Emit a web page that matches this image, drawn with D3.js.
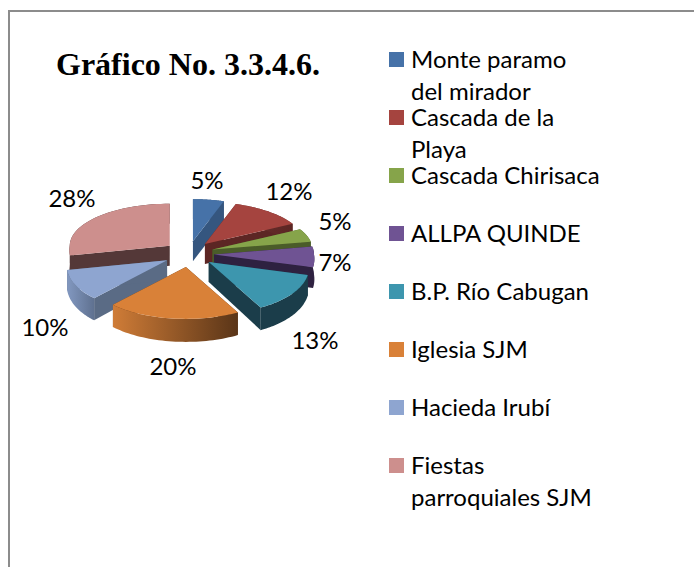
<!DOCTYPE html>
<html><head><meta charset="utf-8">
<script src="https://cdnjs.cloudflare.com/ajax/libs/d3/7.8.5/d3.min.js"></script>
<style>html,body{margin:0;padding:0;background:#fff;overflow:hidden}svg{display:block}</style>
</head><body><svg id="c" width="694" height="567"></svg>
<script>
const title = "Gráfico No. 3.3.4.6.";
const categories = ["Monte paramo\ndel mirador","Cascada de la\nPlaya","Cascada Chirisaca","ALLPA QUINDE","B.P. Río Cabugan","Iglesia SJM","Hacieda Irubí","Fiestas\nparroquiales SJM"];
const values = [5,12,5,7,13,20,10,28];
const topColors  = ["#4672a8","#a5443f","#86a44a","#6f5393","#3d96ae","#d98138","#8ea5d0","#cd8f8d"];
const sideColors = ["#35567f","#5c2624","#4a5c29","#2e2140","#1b3d4a","#5a3518","#5a6b85","#543838"];
const wallStops  = [["#35567f","#35567f"],["#6b302d","#5c2624"],["#4a5c29","#4a5c29"],["#3a2a55","#2e2140"],["#1b3d4a","#1b3d4a"],["#5a3518","#cf7c37"],["#5f7190","#8298c0"],["#543838","#543838"]];
const labelPos = [[207,181],[289,192],[335,222],[335,263],[315,341],[173,367],[45,328],[72,199]];

const svg = d3.select("#c");
const defs = svg.append("defs");
const cx=189, cy=254, Rx=100, RyBack=42, RyFront=52, depth=20, exX=25, exY=13, persp=0.09;
const sans="Lato, 'Open Sans', sans-serif";

svg.append("path").attr("d","M9,567V11H694").attr("fill","none").attr("stroke","#8c8c8c").attr("stroke-width",2);
svg.append("text").attr("x",56).attr("y",75).attr("font-family","'Liberation Serif',serif").attr("font-weight","bold").attr("font-size",32).attr("fill","#000").text(title);

const arcs = d3.pie().sort(null).value(d=>d)(values);
const line = d3.line().x(d=>d[0]).y(d=>d[1]);

function slice(a){
  const mid=(a.startAngle+a.endAngle)/2;
  const ox=cx+exX*Math.sin(mid), oy=cy-exY*Math.cos(mid);
  const pt=(ang,z)=>{
    const c=Math.cos(ang), f=c<0?-c:0;
    return [ox+Rx*(1+persp*f)*Math.sin(ang), oy-(c>0?RyBack:RyFront)*c+z*(1+0.15*f)];
  };
  const steps=d3.range(0,41).map(i=>a.startAngle+(a.endAngle-a.startAngle)*i/40);
  return {ox,oy,pt,steps};
}
// back-to-front painting order
const order=[7,0,1,2,3,6,4,5];
order.forEach(i=>{
  const a=arcs[i], s=slice(a), g=svg.append("g");
  const gid="w"+i;
  const gr=defs.append("linearGradient").attr("id",gid).attr("gradientUnits","userSpaceOnUse")
    .attr("x1",s.pt(a.startAngle,0)[0]).attr("x2",s.pt(a.endAngle,0)[0]).attr("y1",0).attr("y2",0);
  gr.append("stop").attr("offset",0).attr("stop-color",wallStops[i][0]);
  gr.append("stop").attr("offset",1).attr("stop-color",wallStops[i][1]);
  const tip=[s.ox,s.oy], tipB=[s.ox,s.oy+depth];
  [a.startAngle,a.endAngle].forEach(t=>{
    g.append("path").attr("d",line([tip,s.pt(t,0),s.pt(t,depth),tipB])+"Z").attr("fill",sideColors[i]);
  });
  const outer=s.steps.map(t=>s.pt(t,0)).concat(s.steps.slice().reverse().map(t=>s.pt(t,depth)));
  g.append("path").attr("d",line(outer)+"Z").attr("fill",`url(#${gid})`);
  g.append("path").attr("d",line([tip].concat(s.steps.map(t=>s.pt(t,0))))+"Z").attr("fill",topColors[i]);
});

values.forEach((v,i)=>{
  svg.append("text").attr("x",labelPos[i][0]).attr("y",labelPos[i][1]+8).attr("text-anchor","middle")
    .attr("font-family",sans).attr("font-size",24).attr("fill","#000").text(v+"%");
});

const ly=d3.scalePoint().domain(categories).range([60,466]);
categories.forEach((c,i)=>{
  const y=ly(c);
  svg.append("rect").attr("x",389).attr("y",y-8).attr("width",15).attr("height",15).attr("fill",topColors[i]);
  c.split("\n").forEach((t,j)=>{
    svg.append("text").attr("x",411).attr("y",y+8+j*32).attr("font-family",sans).attr("font-size",24).attr("fill","#000").text(t);
  });
});
</script></body></html>
